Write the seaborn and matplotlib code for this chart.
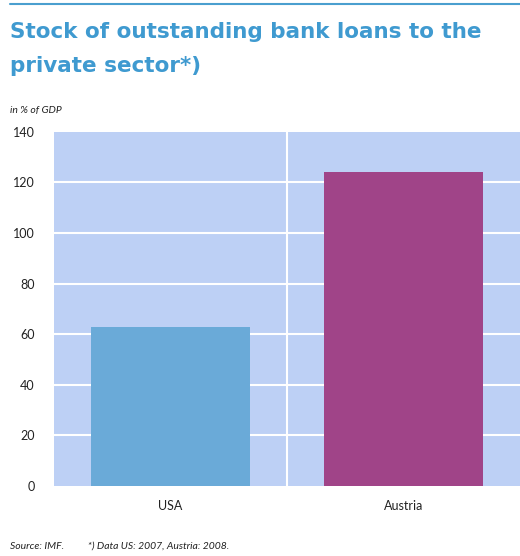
import matplotlib
matplotlib.use("Agg")
import matplotlib.pyplot as plt
import seaborn as sns
import pandas as pd

countries = ["USA", "Austria"]
loans_pct_gdp = [63, 124]
bar_colors = ["#6aaad8", "#a04488"]
yticks = [0, 20, 40, 60, 80, 100, 120, 140]

df = pd.DataFrame({"country": countries, "value": loans_pct_gdp})

sns.set_style("white")
plt.rcParams["font.family"] = ["Lato", "DejaVu Sans"]

fig = plt.figure(figsize=(5.2, 5.56), dpi=100)
ax = fig.add_axes([0.104, 0.126, 0.896, 0.637])
ax.set_facecolor("#bdd0f5")

sns.barplot(data=df, x="country", y="value", hue="country", palette=bar_colors,
            width=0.68, legend=False, ax=ax, saturation=1, zorder=3, linewidth=0)

ax.set_ylim(0, 140)
ax.set_xlim(-0.5, 1.5)
ax.set_yticks(yticks)
for y in yticks[1:-1]:
    ax.axhline(y, color="white", lw=1.5, zorder=1)
ax.axvline(0.5, color="white", lw=1.5, zorder=1)

for s in ax.spines.values():
    s.set_visible(False)
ax.tick_params(axis="both", length=0, labelsize=9, colors="#222222")
ax.tick_params(axis="x", pad=10)
ax.tick_params(axis="y", pad=14)
ax.set_xlabel("")
ax.set_ylabel("")

# top rule and title
fig.add_artist(plt.Line2D([0.02, 1.0], [0.993, 0.993], color="#4a9fcf", lw=1.5))
fig.text(0.02, 0.942, "Stock of outstanding bank loans to the", fontsize=15.5,
         fontweight="bold", color="#3f9ad0", va="center", family="DejaVu Sans")
fig.text(0.02, 0.881, "private sector*)", fontsize=15.5,
         fontweight="bold", color="#3f9ad0", va="center", family="DejaVu Sans")
fig.text(0.02, 0.802, "in % of GDP", fontsize=7.5, style="italic", color="#222222", va="center")
fig.text(0.02, 0.018, "Source: IMF.          *) Data US: 2007, Austria: 2008.", fontsize=7.5,
         style="italic", color="#222222", va="center")

fig.savefig("out.png", dpi=100, facecolor="white")
